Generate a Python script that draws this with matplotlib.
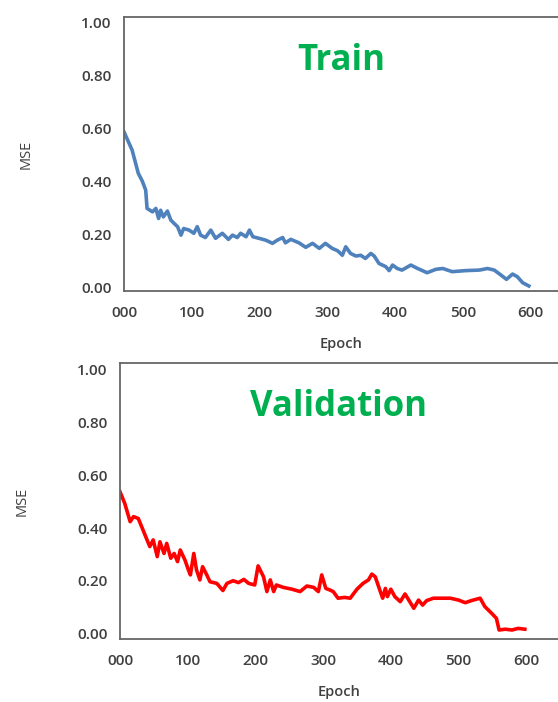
import matplotlib
matplotlib.use("Agg")
import matplotlib.pyplot as plt

# Train curve
train_epoch = [0, 12, 21, 27, 32, 34, 42, 47, 51, 54, 58, 64, 69, 74, 79, 84, 88, 96,
               103, 108, 113, 120, 128, 135, 145, 154, 160, 167, 172, 180, 185, 190,
               199, 209, 219, 226, 234, 238, 246, 258, 268, 278, 288, 297, 307, 315,
               322, 327, 334, 342, 349, 356, 364, 369, 376, 386, 391, 396, 403, 410,
               423, 433, 447, 460, 470, 484, 504, 524, 536, 546, 556, 564, 573, 580,
               588, 597]
train_mse = [0.586, 0.517, 0.43, 0.40, 0.366, 0.297, 0.284, 0.297, 0.259, 0.29, 0.265,
             0.287, 0.253, 0.24, 0.228, 0.196, 0.221, 0.215, 0.203, 0.228, 0.196, 0.187,
             0.215, 0.184, 0.203, 0.18, 0.196, 0.187, 0.203, 0.19, 0.215, 0.19, 0.184,
             0.177, 0.165, 0.177, 0.187, 0.167, 0.18, 0.167, 0.15, 0.165, 0.146, 0.165,
             0.146, 0.137, 0.12, 0.152, 0.127, 0.117, 0.12, 0.108, 0.127, 0.117, 0.089,
             0.077, 0.062, 0.083, 0.07, 0.064, 0.083, 0.07, 0.054, 0.067, 0.07, 0.058,
             0.062, 0.064, 0.07, 0.064, 0.045, 0.029, 0.049, 0.039, 0.016, 0.004]

# Validation curve
val_epoch = [0, 7, 15, 20, 27, 32, 39, 44, 49, 55, 59, 65, 69, 75, 80, 85, 89, 96,
             101, 104, 109, 113, 118, 122, 127, 133, 143, 152, 158, 167, 175, 183,
             190, 199, 204, 212, 217, 222, 227, 231, 241, 254, 266, 276, 286, 293,
             298, 304, 310, 315, 322, 332, 340, 350, 359, 367, 372, 377, 382, 388,
             392, 395, 400, 406, 414, 421, 428, 434, 441, 447, 453, 463, 488, 500,
             510, 519, 532, 539, 549, 556, 560, 569, 579, 588, 598]
val_mse = [0.537, 0.493, 0.424, 0.443, 0.436, 0.405, 0.361, 0.33, 0.355, 0.292, 0.348,
           0.304, 0.342, 0.286, 0.304, 0.273, 0.317, 0.279, 0.242, 0.223, 0.304, 0.242,
           0.204, 0.254, 0.229, 0.197, 0.191, 0.164, 0.191, 0.201, 0.194, 0.206, 0.191,
           0.185, 0.257, 0.216, 0.16, 0.204, 0.16, 0.185, 0.176, 0.169, 0.16, 0.181,
           0.176, 0.16, 0.223, 0.172, 0.166, 0.16, 0.135, 0.138, 0.135, 0.169, 0.191,
           0.204, 0.226, 0.216, 0.179, 0.135, 0.172, 0.141, 0.169, 0.141, 0.122, 0.151,
           0.122, 0.097, 0.128, 0.109, 0.126, 0.135, 0.135, 0.128, 0.118, 0.126, 0.135,
           0.103, 0.078, 0.059, 0.015, 0.018, 0.015, 0.021, 0.018]

x_ticks = [0, 100, 200, 300, 400, 500, 600]
x_labels = ['000', '100', '200', '300', '400', '500', '600']
y_ticks = [0.0, 0.2, 0.4, 0.6, 0.8, 1.0]

plt.rcParams['font.family'] = ['Open Sans', 'DejaVu Sans']
txt = '#404040'

fig = plt.figure(figsize=(5.58, 7.02), dpi=100)
ax1 = fig.add_axes([124 / 558, 1 - 291 / 702, 1 - 124 / 558, 274 / 702])
ax2 = fig.add_axes([120 / 558, 1 - 639 / 702, 1 - 120 / 558, 276 / 702])

panels = [(ax1, train_epoch, train_mse, '#4F81BD', 'Train', 640, (-0.015, 1.02)),
          (ax2, val_epoch, val_mse, '#FF0000', 'Validation', 647, (-0.019, 1.023))]

for ax, xs, ys, col, name, xmax, ylim in panels:
    ax.plot(xs, ys, color=col, lw=2.6, solid_joinstyle='round')
    ax.set_xlim(0, xmax)
    ax.set_ylim(*ylim)
    ax.set_xticks(x_ticks)
    ax.set_xticklabels(x_labels)
    ax.set_yticks(y_ticks)
    ax.set_yticklabels(['%.2f' % v for v in y_ticks])
    ax.tick_params(length=0, labelsize=11, labelcolor=txt)
    ax.tick_params(axis='x', pad=11)
    ax.tick_params(axis='y', pad=9)
    for lab in ax.get_xticklabels() + ax.get_yticklabels():
        lab.set_fontweight('semibold')
    ax.spines['right'].set_visible(False)
    for s in ['left', 'top', 'bottom']:
        ax.spines[s].set_color('#666666')
        ax.spines[s].set_linewidth(1.3)
    ax.set_xlabel('Epoch', fontsize=10.5, color=txt, fontweight='semibold', labelpad=12)
    ax.set_ylabel('MSE', fontsize=10.5, color=txt, labelpad=34)
    ax.text(0.5, 0.84, name, transform=ax.transAxes, ha='center', va='center',
            fontsize=25, fontweight='bold', color='#00B050')

fig.savefig('out.png', dpi=100)
